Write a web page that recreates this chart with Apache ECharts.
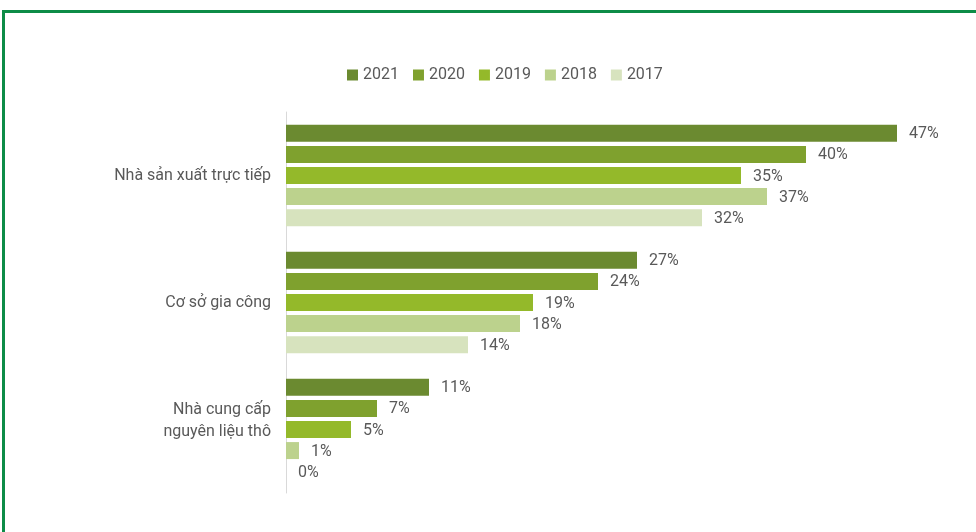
<!DOCTYPE html>
<html>
<head>
<meta charset="utf-8">
<script src="https://cdn.jsdelivr.net/npm/echarts@6/dist/echarts.min.js"></script>
<style>
  html, body { margin: 0; padding: 0; background: #fff; }
  #frame { position: absolute; left: 2px; top: 10px; width: 990px; height: 540px;
           border-left: 3px solid #0d8c47; border-top: 3px solid #0d8c47; }
  #main { width: 976px; height: 532px; }
</style>
</head>
<body>
<div id="frame"></div>
<div id="main"></div>
<script>
var chartDom = document.getElementById('main');
var myChart = echarts.init(chartDom);
var option;

let categories = ['Nhà sản xuất trực tiếp', 'Cơ sở gia công', 'Nhà cung cấp\nnguyên liệu thô'];
let years = ['2021', '2020', '2019', '2018', '2017'];
let v2021 = [47, 27, 11];
let v2020 = [40, 24, 7];
let v2019 = [35, 19, 5];
let v2018 = [37, 18, 1];
let v2017 = [32, 14, 0];
let colors = ['#6b8a30', '#7fa12e', '#94b92a', '#bcd28d', '#d7e3be'];

let values = [v2021, v2020, v2019, v2018, v2017];
let series = [];
for (var i = 0; i < years.length; i++) {
  series.push({
    name: years[i],
    type: 'bar',
    data: values[i],
    barWidth: 17,
    barGap: '24%',
    itemStyle: { color: colors[i] },
    label: {
      show: true,
      position: 'right',
      distance: 12,
      offset: [0, 1],
      formatter: '{c}%',
      color: '#595959',
      fontSize: 16,
      fontFamily: 'Roboto'
    }
  });
}

option = {
  animation: false,
  textStyle: { fontFamily: 'Roboto' },
  color: colors,
  legend: {
    data: years,
    top: 62,
    left: 342,
    itemWidth: 11,
    itemHeight: 11,
    itemGap: 14,
    icon: 'rect',
    textStyle: { color: '#595959', fontSize: 16, fontFamily: 'Roboto' }
  },
  grid: { left: 286, top: 112, width: 650, height: 381 },
  xAxis: {
    type: 'value',
    min: 0,
    max: 50,
    show: false
  },
  yAxis: {
    type: 'category',
    data: categories,
    inverse: true,
    axisLine: { show: true, lineStyle: { color: '#d9d9d9', width: 1 } },
    axisTick: { show: false },
    axisLabel: {
      color: '#595959',
      fontSize: 16,
      fontFamily: 'Roboto',
      margin: 15,
      lineHeight: 22,
      align: 'right',
      // two-line label sits a little above the band centre
      formatter: function (v) {
        return v.indexOf('\n') >= 0 ? v + '\n{e| }' : v;
      },
      rich: { e: { lineHeight: 18, fontSize: 10 } }
    }
  },
  series: series
};

option && myChart.setOption(option);
</script>
</body>
</html>
